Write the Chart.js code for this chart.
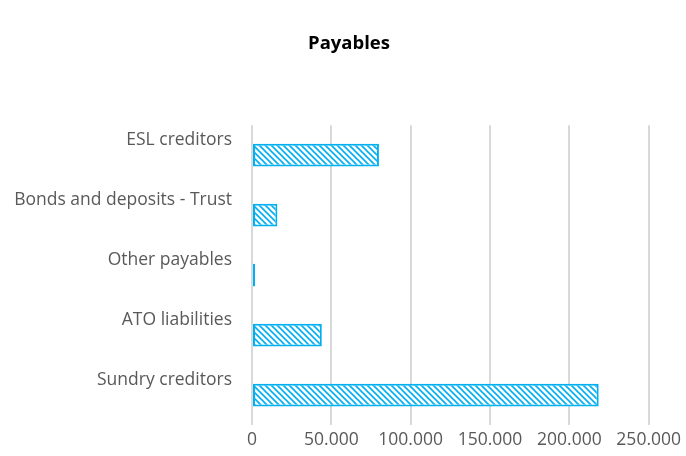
<!DOCTYPE html>
<html>
<head>
<meta charset="utf-8">
<script src="https://cdn.jsdelivr.net/npm/chart.js@4/dist/chart.umd.min.js"></script>
<style>
  html, body { margin: 0; padding: 0; background: #fff; }
  #wrap { width: 686px; height: 456px; }
</style>
</head>
<body>
<div id="wrap"><canvas id="myChart"></canvas></div>
<script>
// Payables data
const categories = ['ESL creditors', 'Bonds and deposits - Trust', 'Other payables', 'ATO liabilities', 'Sundry creditors'];
const payables = [80000, 16000, 2000, 44000, 218500];
const xTicks = [0, 50000, 100000, 150000, 200000, 250000];

// light blue diagonal hatch
function hatch() {
    const c = document.createElement('canvas');
    c.width = 6;
    c.height = 6;
    const g = c.getContext('2d');
    g.fillStyle = '#ffffff';
    g.fillRect(0, 0, 6, 6);
    g.strokeStyle = '#00b0f0';
    g.lineWidth = 1.6;
    g.beginPath();
    g.moveTo(-1, -1); g.lineTo(7, 7);
    g.moveTo(-4, 2); g.lineTo(2, 8);
    g.moveTo(2, -4); g.lineTo(8, 2);
    g.stroke();
    return g.createPattern(c, 'repeat');
}

const fmt = v => v.toLocaleString('de-DE');

const ctx = document.getElementById('myChart').getContext('2d');
new Chart(ctx, {
    type: 'bar',
    data: {
        labels: categories,
        datasets: [{
            label: 'Payables',
            data: payables,
            backgroundColor: hatch(),
            borderColor: '#00b0f0',
            borderWidth: 2,
            borderSkipped: false,
            categoryPercentage: 1,
            barPercentage: 0.38
        }]
    },
    options: {
        indexAxis: 'y',
        responsive: true,
        maintainAspectRatio: false,
        animation: false,
        layout: { padding: { left: 14, right: 2, top: 0, bottom: 0 } },
        plugins: {
            legend: { display: false },
            tooltip: { enabled: false },
            title: {
                display: true,
                text: 'Payables',
                color: '#000',
                font: { family: 'Open Sans', size: 18.5, weight: 'bold' },
                padding: { top: 33, bottom: 70 }
            }
        },
        scales: {
            x: {
                min: 0,
                max: 250000,
                afterBuildTicks: axis => { axis.ticks = xTicks.map(v => ({ value: v })); },
                grid: { color: '#d9d9d9', lineWidth: 2, drawTicks: false },
                border: { display: false },
                ticks: {
                    color: '#595959',
                    font: { family: 'Open Sans', size: 17.5 },
                    padding: 5,
                    callback: v => fmt(v)
                }
            },
            y: {
                afterFit: axis => { axis.width = 238; },
                grid: { display: false, drawTicks: false },
                border: { display: false },
                ticks: {
                    color: '#595959',
                    font: { family: 'Open Sans', size: 17.5 },
                    padding: 20,
                    labelOffset: -15
                }
            }
        }
    }
});
</script>
</body>
</html>
